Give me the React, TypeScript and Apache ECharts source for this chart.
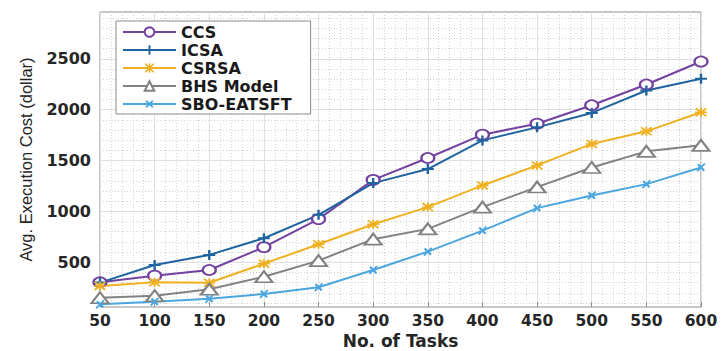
import React, { useEffect, useRef } from "react";
import * as echarts from "echarts";

const tasks = [50, 100, 150, 200, 250, 300, 350, 400, 450, 500, 550, 600];
const ccs = [303, 368, 424, 648, 924, 1310, 1525, 1754, 1862, 2043, 2247, 2473];
const icsa = [300, 473, 572, 736, 966, 1278, 1416, 1698, 1826, 1968, 2188, 2303];
const csrsa = [267, 303, 298, 486, 677, 874, 1042, 1255, 1452, 1663, 1787, 1974];
const bhs = [151, 171, 234, 358, 516, 727, 828, 1042, 1239, 1432, 1590, 1649];
const sbo = [86, 112, 141, 188, 254, 424, 604, 811, 1032, 1156, 1268, 1432];
const seriesNames = ["CCS", "ICSA", "CSRSA", "BHS Model", "SBO-EATSFT"];
const yTickLabels = [500, 1000, 1500, 2000, 2500];

const Y_MIN = 60;
const Y_MAX = 2960;
const Y_STEP = 20;

const PLUS = "path://M4,0 H6 V4 H10 V6 H6 V10 H4 V6 H0 V4 H4 Z";
const STAR =
  "path://M4.2,0 H5.8 V4.2 H10 V5.8 H5.8 V10 H4.2 V5.8 H0 V4.2 H4.2 Z M0,1.2 L1.2,0 L10,8.8 L8.8,10 Z M8.8,0 L10,1.2 L1.2,10 L0,8.8 Z";

const TR = "rgba(0,0,0,0)";
const MINOR = "#d2d2d2";
const MAJOR = "#e0e0e0";

// colour cycles for the y split lines (ticks every 20 starting at 60)
const yMinorColors = Array.from({ length: 5 }, (_, i) => (i === 2 ? MINOR : TR));
const yMajorColors = Array.from({ length: 25 }, (_, i) => (i === 22 ? MAJOR : TR));

export default function App() {
  const ref = useRef<HTMLDivElement>(null);
  useEffect(() => {
    if (!ref.current) return;
    const chart = echarts.init(ref.current, null, { renderer: "svg" });
    const mk = (vals: number[]) => tasks.map((t, i) => [t, vals[i]]);
    const textColor = "#262626";
    const lineSeries = (
      name: string,
      vals: number[],
      color: string,
      symbol: string,
      size: number[],
      empty: boolean,
      rotate = 0
    ) => ({
      name,
      type: "line",
      data: mk(vals),
      xAxisIndex: 0,
      yAxisIndex: 0,
      symbol,
      symbolSize: size,
      symbolRotate: rotate,
      showAllSymbol: true,
      lineStyle: { color, width: 2 },
      itemStyle: empty
        ? { color, borderColor: color, borderWidth: 2 }
        : { color, borderWidth: 0 },
      emphasis: { disabled: true },
    });
    chart.setOption({
      animation: false,
      backgroundColor: "#ffffff",
      grid: {
        left: 100,
        right: 20,
        top: 12,
        bottom: 44,
        containLabel: false,
        outerBoundsMode: "none",
        show: true,
        borderColor: "#8f8f8f",
        borderWidth: 1,
        backgroundColor: "#ffffff",
      },
      legend: {
        orient: "vertical",
        left: 116,
        top: 21,
        backgroundColor: "#ffffff",
        borderColor: "#8a8a8a",
        borderWidth: 1,
        borderRadius: 0,
        padding: [3, 19, 2, 6],
        itemWidth: 53,
        itemHeight: 12,
        itemGap: 2,
        data: seriesNames,
        textStyle: {
          fontFamily: "DejaVu Sans",
          fontWeight: "bold",
          fontSize: 16,
          lineHeight: 15,
          color: "#1a1a1a",
        },
      },
      xAxis: [
        {
          type: "value",
          min: 50,
          max: 600,
          interval: 10,
          position: "bottom",
          name: "No. of Tasks",
          nameLocation: "middle",
          nameGap: 25,
          nameTextStyle: {
            fontFamily: "DejaVu Sans",
            fontWeight: "bold",
            fontSize: 17,
            lineHeight: 17,
            color: textColor,
          },
          axisLine: { show: false },
          axisTick: { show: false },
          axisLabel: { show: false },
          splitLine: { show: true, lineStyle: { color: MINOR, type: [1, 2], width: 1 } },
        },
        {
          type: "value",
          min: 50,
          max: 600,
          interval: 50,
          position: "bottom",
          axisLine: { show: false },
          axisTick: { show: true, inside: true, length: 5, lineStyle: { color: "#8f8f8f" } },
          axisLabel: {
            show: true,
            margin: 6,
            fontFamily: "DejaVu Sans",
            fontWeight: "bold",
            fontSize: 15.5,
            lineHeight: 16,
            color: textColor,
          },
          splitLine: { show: true, lineStyle: { color: MAJOR, width: 1, type: "solid" } },
        },
      ],
      yAxis: [
        {
          type: "value",
          min: Y_MIN,
          max: Y_MAX,
          interval: Y_STEP,
          position: "left",
          name: "Avg. Execution Cost (dollar)",
          nameLocation: "middle",
          nameGap: 66,
          nameTextStyle: {
            fontFamily: "Liberation Sans",
            fontSize: 16.5,
            color: textColor,
          },
          axisLine: { show: false },
          axisTick: { show: false },
          axisLabel: {
            show: true,
            margin: 9,
            fontFamily: "DejaVu Sans",
            fontWeight: "bold",
            fontSize: 16,
            color: textColor,
            formatter: (v: number) => (yTickLabels.includes(Math.round(v)) ? String(Math.round(v)) : ""),
          },
          splitLine: { show: true, lineStyle: { color: yMinorColors, type: [1, 2], width: 1 } },
        },
        {
          type: "value",
          min: Y_MIN,
          max: Y_MAX,
          interval: Y_STEP,
          position: "left",
          axisLine: { show: false },
          axisTick: { show: false },
          axisLabel: { show: false },
          splitLine: { show: true, lineStyle: { color: yMajorColors, width: 1, type: "solid" } },
        },
      ],
      series: [
        lineSeries("CCS", ccs, "#7342a0", "emptyCircle", [13, 10], true),
        lineSeries("ICSA", icsa, "#20649f", PLUS, [12, 10], false),
        lineSeries("CSRSA", csrsa, "#efb122", STAR, [12, 9], false),
        lineSeries("BHS Model", bhs, "#828282", "emptyTriangle", [17, 11], true),
        lineSeries("SBO-EATSFT", sbo, "#4ba6df", PLUS, [11, 9], false, 45),
      ],
    });
    return () => chart.dispose();
  }, []);
  return (
    <div
      ref={ref}
      style={{ position: "absolute", left: 0, top: 0, width: 721, height: 351 }}
    />
  );
}
